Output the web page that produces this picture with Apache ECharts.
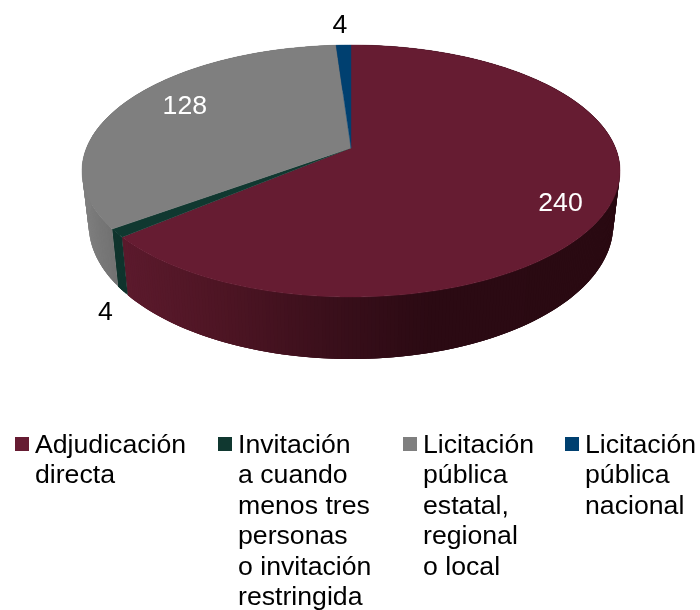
<!DOCTYPE html>
<html>
<head>
<meta charset="utf-8">
<style>html,body{margin:0;padding:0;background:#fff}#c{width:700px;height:610px}</style>
<script src="https://cdn.jsdelivr.net/npm/echarts@6/dist/echarts.min.js"></script>
</head>
<body>
<div id="c"></div>
<script>
const categories = ['Adjudicación\ndirecta', 'Invitación\na cuando\nmenos tres\npersonas\no invitación\nrestringida', 'Licitación\npública\nestatal,\nregional\no local', 'Licitación\npública\nnacional'];
const values = [240, 4, 128, 4];
const colors = ['#661c32', '#103830', '#7f7f7f', '#004070'];
const labelColors = ['#ffffff', '#000000', '#ffffff', '#000000'];
// radial fraction of each value label, with a screen offset
const labelRadius = [0.80, 1.04, 0.75, 1.245];
const labelDx = [5, -1, 4, -2];
const labelDy = [12, 76, -5, 1];
const legendLeft = [15, 218, 403, 565];

// side wall shade along x: [x, [r,g,b]]
const sideShades = [
  [[120,[92,26,45]],[220,[78,21,36]],[330,[58,15,27]],[430,[43,10,19]],[620,[42,10,18]]],
  [[100,[15,52,45]],[140,[15,52,45]]],
  [[84,[128,128,128]],[100,[120,120,120]],[115,[114,114,114]]],
  [[300,[0,53,96]],[400,[0,53,96]]]
];

// projection of the pie disc
const CX = 351, CY = 148, RX = 264.5, RY = 121.8, P = 0.1825;
const BASE_DY = 52, BASE_SX = 0.975, BASE_SY = 1.067;
const FONT = '26.67px "Liberation Sans", Arial, sans-serif';
const LINE = 30.5;
const total = values.reduce((a, b) => a + b, 0);

function project(angle, r) {
  const u = Math.sin(angle) * r, v = Math.cos(angle) * r, w = 1 + P * v;
  return [CX + RX * u / w, CY - RY * v / w];
}
function arc(a0, a1, r, dy, sx, sy) {
  const n = Math.max(2, Math.ceil(Math.abs(a1 - a0) / 0.012));
  const pts = [];
  for (let i = 0; i <= n; i++) {
    const p = project(a0 + (a1 - a0) * i / n, r);
    pts.push([CX + (p[0] - CX) * sx, CY + (p[1] - CY) * sy + dy]);
  }
  return pts;
}
function shade(stops, x) {
  let c = stops[stops.length - 1][1];
  if (x <= stops[0][0]) c = stops[0][1];
  else for (let i = 1; i < stops.length; i++) {
    if (x <= stops[i][0]) {
      const t = (x - stops[i-1][0]) / (stops[i][0] - stops[i-1][0]);
      c = stops[i-1][1].map((v, k) => Math.round(v + (stops[i][1][k] - v) * t));
      break;
    }
  }
  return 'rgb(' + c.join(',') + ')';
}

function renderSlice(index) {
  return function (params, api) {
    const before = values.slice(0, index).reduce((a, b) => a + b, 0);
    const a0 = before / total * Math.PI * 2;
    const a1 = (before + api.value(0)) / total * Math.PI * 2;
    const mid = (a0 + a1) / 2;
    const top = arc(a0, a1, 1, 0, 1, 1);
    const bottom = arc(a0, a1, 1, BASE_DY, BASE_SX, BASE_SY);
    const lp = project(mid, labelRadius[index]);
    const children = [];
    const last = top.length - 1;
    for (let i = 0; i < last; i++) {
      // each wall piece overlaps the next so no seams show between them
      const j = Math.min(i + 3, last);
      const fill = shade(sideShades[index], (top[i][0] + bottom[i + 1][0]) / 2);
      children.push({type:'polygon', z2:5, silent:true,
        shape:{points:[top[i], top[j], bottom[j], bottom[i]]},
        style:{fill: fill}});
    }
    children.push({type:'polygon', z2:10, silent:true, shape:{points: [[CX, CY]].concat(top)}, style:{fill: colors[index], stroke: colors[index], lineWidth: 0.4}});
    children.push({type:'text', z2:20, silent:true, style:{text: String(api.value(0)), x: lp[0] + labelDx[index], y: lp[1] + labelDy[index], fill: labelColors[index], font: FONT, textAlign:'center', textVerticalAlign:'middle', verticalAlign:'middle'}});
    return {type: 'group', children: children};
  };
}

function legendFor(name, i) {
  const lines = name.split('\n').length;
  const h = lines * LINE;
  return {
    left: legendLeft[i], top: 430.25, padding: 0, orient: 'vertical',
    itemWidth: 15, itemHeight: h, itemGap: 0, selectedMode: false,
    icon: 'path://M0 0L15 0Z M0 6.75L14 6.75L14 20.75L0 20.75Z M0 ' + h + 'L15 ' + h + 'Z',
    data: [name],
    textStyle: {color:'#000', fontFamily:'"Liberation Sans", Arial, sans-serif', fontSize:26.67, lineHeight: LINE}
  };
}

const chart = echarts.init(document.getElementById('c'), null, {renderer:'canvas'});
chart.setOption({
  animation: false,
  backgroundColor: '#fff',
  legend: categories.map(legendFor),
  series: categories.map((name, i) => ({
    type: 'custom', name: name, coordinateSystem: 'none',
    itemStyle: {color: colors[i]},
    renderItem: renderSlice(i),
    data: [[values[i]]],
    silent: true
  }))
});
</script>
</body>
</html>
